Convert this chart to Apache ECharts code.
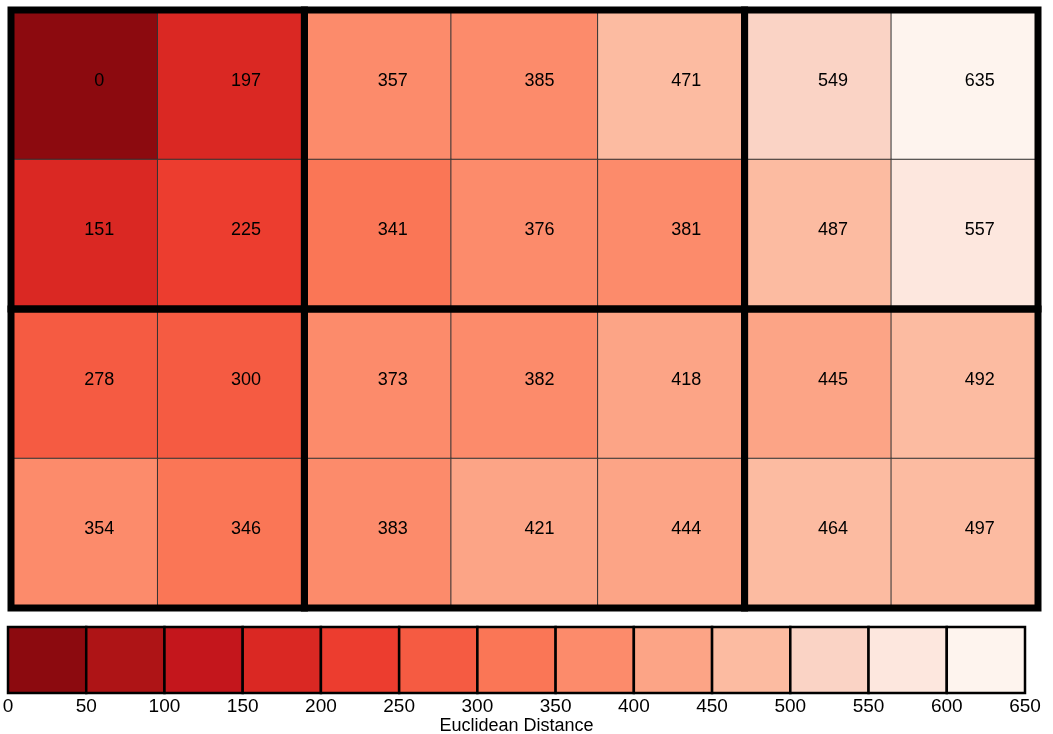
<!DOCTYPE html>
<html>
<head>
<meta charset="utf-8">
<title>Euclidean Distance heatmap</title>
<script src="https://cdn.jsdelivr.net/npm/echarts@6/dist/echarts.min.js"></script>
<style>
  html, body { margin: 0; padding: 0; background: #fff; }
  #chart { width: 1053px; height: 734px; }
</style>
</head>
<body>
<div id="chart"></div>
<script>
// grid values, top row first
var colNames = ['c1', 'c2', 'c3', 'c4', 'c5', 'c6', 'c7'];
var rowNames = ['r1', 'r2', 'r3', 'r4'];
var rowValues = [
  [0, 197, 357, 385, 471, 549, 635],
  [151, 225, 341, 376, 381, 487, 557],
  [278, 300, 373, 382, 418, 445, 492],
  [354, 346, 383, 421, 444, 464, 497]
];
// thick boxes: [firstCol, lastCol, firstRow, lastRow]
var groups = [
  [0, 1, 0, 1], [2, 4, 0, 1], [5, 6, 0, 1],
  [0, 1, 2, 3], [2, 4, 2, 3], [5, 6, 2, 3]
];
// colour bins of the legend
var binEdges = [0, 50, 100, 150, 200, 250, 300, 350, 400, 450, 500, 550, 600, 650];
var binColors = ['#8c0a0f', '#ae1416', '#c4161c', '#da2823', '#ec3d2f', '#f55b42',
                 '#fa7656', '#fc8b6b', '#fca486', '#fcbba1', '#fad3c5', '#fde7de', '#fef4ee'];

var cells = [];
rowValues.forEach(function (row, r) {
  row.forEach(function (v, c) { cells.push([c, r, v]); });
});

var pieces = [];
var bins = [];
for (var i = 0; i < binColors.length; i++) {
  var p = { lte: binEdges[i + 1], color: binColors[i] };
  if (i === 0) p.gte = binEdges[i]; else p.gt = binEdges[i];
  pieces.push(p);
  bins.push([binEdges[i], binEdges[i + 1]]);
}

var chart = echarts.init(document.getElementById('chart'), null, { renderer: 'canvas' });

var option = {
  backgroundColor: '#fff',
  animation: false,
  textStyle: { fontFamily: 'Liberation Sans, Arial, sans-serif' },
  grid: [
    { left: 11, right: 15, top: 10, height: 598, outerBoundsMode: 'none' },
    { left: 8, right: 28, top: 627, height: 66, outerBoundsMode: 'none' }
  ],
  xAxis: [
    { type: 'category', gridIndex: 0, data: colNames, show: false },
    {
      type: 'value', gridIndex: 1, min: 0, max: 650, interval: 50,
      axisLine: { show: false }, axisTick: { show: false }, splitLine: { show: false },
      axisLabel: { color: '#000', fontSize: 19, margin: 4 },
      name: 'Euclidean Distance', nameLocation: 'middle', nameGap: 22,
      nameTextStyle: { color: '#000', fontSize: 18 }
    }
  ],
  yAxis: [
    { type: 'category', gridIndex: 0, data: rowNames, inverse: true, show: false },
    { type: 'value', gridIndex: 1, min: 0, max: 1, show: false }
  ],
  visualMap: {
    type: 'piecewise', show: false, seriesIndex: 0, dimension: 2,
    pieces: pieces
  },
  series: [
    {
      type: 'heatmap',
      xAxisIndex: 0, yAxisIndex: 0,
      data: cells,
      itemStyle: { borderColor: '#333', borderWidth: 1 },
      label: {
        show: true, color: '#000', fontSize: 18, offset: [15, -4],
        formatter: function (p) { return p.value[2]; }
      },
      emphasis: { disabled: true }
    },
    {
      // thick group frames
      type: 'custom',
      xAxisIndex: 0, yAxisIndex: 0,
      z: 5,
      silent: true,
      data: groups,
      renderItem: function (params, api) {
        var a = api.coord([api.value(0), api.value(2)]);
        var b = api.coord([api.value(1), api.value(3)]);
        var s = api.size([1, 1]);
        var x0 = Math.min(a[0], b[0]) - s[0] / 2;
        var y0 = Math.min(a[1], b[1]) - s[1] / 2;
        return {
          type: 'rect',
          shape: { x: x0, y: y0, width: Math.abs(b[0] - a[0]) + s[0], height: Math.abs(b[1] - a[1]) + s[1] },
          style: { fill: 'none', stroke: '#000', lineWidth: 7 }
        };
      }
    },
    {
      // colour legend boxes
      type: 'custom',
      xAxisIndex: 1, yAxisIndex: 1,
      silent: true,
      data: bins,
      renderItem: function (params, api) {
        var a = api.coord([api.value(0), 1]);
        var b = api.coord([api.value(1), 0]);
        return {
          type: 'rect',
          shape: { x: a[0], y: a[1], width: b[0] - a[0], height: b[1] - a[1] },
          style: { fill: binColors[params.dataIndex], stroke: '#000', lineWidth: 2.5 }
        };
      }
    }
  ]
};

chart.setOption(option);
</script>
</body>
</html>
